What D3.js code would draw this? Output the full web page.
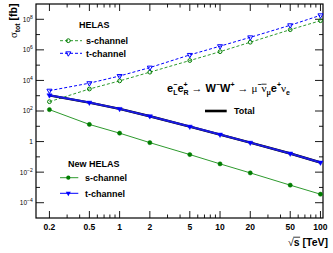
<!DOCTYPE html>
<html><head><meta charset="utf-8">
<script src="https://cdn.jsdelivr.net/npm/d3@7"></script>
<style>
html,body{margin:0;padding:0;background:#fff;}
svg{display:block;font-family:"Liberation Sans",Arial,sans-serif;}
</style></head>
<body><svg id="c" width="333" height="253"></svg>
<script>
const energies = [0.2, 0.5, 1, 2, 5, 10, 20, 50, 100];
const helasS = [407, 2750, 9330, 34700, 2.0e5, 7.6e5, 3.16e6, 2.09e7, 8.1e7];
const helasT = [2140, 6600, 19500, 69200, 4.68e5, 1.74e6, 6.6e6, 4.07e7, 1.82e8];
const newS = [123, 13.2, 3.55, 0.85, 0.141, 0.0347, 0.0089, 0.00141, 0.00036];
const newT = [1072, 355, 138, 45.7, 9.55, 2.88, 0.85, 0.166, 0.0427];
const total = [1060, 352, 137, 45.5, 9.5, 2.87, 0.85, 0.166, 0.0427];
const xTickLabels = ["0.2", "0.5", "1", "2", "5", "10", "20", "50", "100"];
const yTickPowers = [-4, -2, 0, 2, 4, 6, 8];

const svg = d3.select("#c");
const L = 36, R = 323, T = 4, B = 218;
const x = d3.scaleLog().domain([0.147, 106]).range([L, R]);
const y = d3.scaleLog().domain([1e-5, 1e9]).range([B, T]);

const GREEN_L = "#2e9a2e", GREEN_M = "#007d00", BLUE = "#0000ff";

// frame
svg.append("rect").attr("x", L).attr("y", T).attr("width", R - L).attr("height", B - T)
  .attr("fill", "none").attr("stroke", "#000").attr("stroke-width", 1.2);

// x ticks
const xMinor = [];
[0.1, 1, 10].forEach(d => { for (let k = 1; k <= 9; k++) { const v = +(d * k).toPrecision(3); if (v >= 0.2 && v <= 100) xMinor.push(v); } });
xMinor.push(100);
const xLab = xTickLabels.map(Number);
xMinor.forEach(v => {
  const len = xLab.includes(v) ? 7 : 3.5;
  svg.append("line").attr("x1", x(v)).attr("x2", x(v)).attr("y1", B).attr("y2", B - len).attr("stroke", "#000").attr("stroke-width", 0.9);
  svg.append("line").attr("x1", x(v)).attr("x2", x(v)).attr("y1", T).attr("y2", T + len).attr("stroke", "#000").attr("stroke-width", 0.9);
});
xTickLabels.forEach(s => {
  svg.append("text").attr("x", x(+s)).attr("y", 229.5).attr("text-anchor", "middle")
    .attr("font-size", 8.5).attr("font-weight", "bold").text(s);
});

// y ticks
for (let p = -4; p <= 8; p++) {
  const major = yTickPowers.includes(p);
  const len = major ? 8 : 4;
  const yy = y(Math.pow(10, p));
  svg.append("line").attr("x1", L).attr("x2", L + len).attr("y1", yy).attr("y2", yy).attr("stroke", "#000").attr("stroke-width", 0.9);
  svg.append("line").attr("x1", R).attr("x2", R - len).attr("y1", yy).attr("y2", yy).attr("stroke", "#000").attr("stroke-width", 0.9);
}
yTickPowers.forEach(p => {
  const t = svg.append("text").attr("x", 32.8).attr("y", y(Math.pow(10, p)) + 2.4)
    .attr("text-anchor", "end").attr("font-size", 6.5);
  if (p === 0) { t.text("1"); }
  else {
    t.append("tspan").text("10");
    t.append("tspan").attr("dy", -3).attr("font-size", 5).text(p < 0 ? "\u2212" + (-p) : String(p));
  }
});

// axis titles
const yt = svg.append("text").attr("transform", "translate(17,3.5) rotate(-90)")
  .attr("text-anchor", "end").attr("font-size", 10.5).attr("font-weight", "bold");
yt.append("tspan").attr("font-family", "Liberation Serif, serif").attr("font-weight", "normal").text("\u03c3");
yt.append("tspan").attr("dy", 2.5).attr("font-size", 7).text("tot");
yt.append("tspan").attr("dy", -2.5).text(" [fb]");

// x title sqrt(s) [TeV]
{
  const g = svg.append("g");
  const t = g.append("text").attr("x", 328).attr("y", 246).attr("text-anchor", "end")
    .attr("font-size", 10.5).attr("font-weight", "bold");
  t.append("tspan").attr("font-weight", "normal").text("\u221a");
  t.append("tspan").text("s");
  t.append("tspan").text(" [TeV]");
  const n = t.node();
  const st = n.getStartPositionOfChar(1).x, en = n.getEndPositionOfChar(1).x;
  g.append("line").attr("x1", st - 0.5).attr("x2", en + 0.5).attr("y1", 237.2).attr("y2", 237.2)
    .attr("stroke", "#000").attr("stroke-width", 0.8);
}

// data lines
const pts = arr => energies.map((e, i) => [x(e), y(arr[i])]);
const line = d3.line();
svg.append("path").attr("d", line(pts(helasS))).attr("fill", "none").attr("stroke", GREEN_L).attr("stroke-width", 1).attr("stroke-dasharray", "3,2");
svg.append("path").attr("d", line(pts(helasT))).attr("fill", "none").attr("stroke", BLUE).attr("stroke-width", 1).attr("stroke-dasharray", "3,2");
svg.append("path").attr("d", line(pts(newS))).attr("fill", "none").attr("stroke", GREEN_L).attr("stroke-width", 1);
svg.append("path").attr("d", line(pts(total))).attr("fill", "none").attr("stroke", "#000").attr("stroke-width", 2.4);
svg.append("path").attr("d", line(pts(newT))).attr("fill", "none").attr("stroke", "#1a1ae0").attr("stroke-width", 2.0);

// markers
const tri = d3.symbol().type(d3.symbolTriangle).size(11);
function circles(arr, filled) {
  pts(arr).forEach(([px, py]) => svg.append("circle").attr("cx", px).attr("cy", py).attr("r", filled ? 2.1 : 1.9)
    .attr("fill", filled ? GREEN_M : "none").attr("stroke", GREEN_M).attr("stroke-width", filled ? 0.5 : 1));
}
function tris(arr, filled) {
  pts(arr).forEach(([px, py]) => svg.append("path").attr("d", tri()).attr("transform", `translate(${px},${py}) rotate(180)`)
    .attr("fill", filled ? BLUE : "none").attr("stroke", BLUE).attr("stroke-width", filled ? 0.5 : 1));
}
circles(helasS, false);
tris(helasT, false);
circles(newS, true);
tris(newT, true);

// legends
function legText(xx, yy, s, size) {
  svg.append("text").attr("x", xx).attr("y", yy).attr("font-size", size || 9).attr("font-weight", "bold").text(s);
}
legText(79, 27.5, "HELAS");
svg.append("line").attr("x1", 60).attr("x2", 82).attr("y1", 40.7).attr("y2", 40.7).attr("stroke", GREEN_L).attr("stroke-dasharray", "3,2");
svg.append("circle").attr("cx", 68.3).attr("cy", 40.7).attr("r", 1.9).attr("fill", "none").attr("stroke", GREEN_M);
legText(86, 44, "s-channel");
svg.append("line").attr("x1", 60).attr("x2", 82).attr("y1", 53.3).attr("y2", 53.3).attr("stroke", BLUE).attr("stroke-dasharray", "3,2");
svg.append("path").attr("d", tri()).attr("transform", "translate(68.3,53.3) rotate(180)").attr("fill", "none").attr("stroke", BLUE);
legText(86, 56.6, "t-channel");

legText(68, 167, "New HELAS");
svg.append("line").attr("x1", 60).attr("x2", 78.3).attr("y1", 177.7).attr("y2", 177.7).attr("stroke", GREEN_L);
svg.append("circle").attr("cx", 68.3).attr("cy", 177.7).attr("r", 2.1).attr("fill", GREEN_M);
legText(85, 181, "s-channel");
svg.append("line").attr("x1", 60).attr("x2", 78.3).attr("y1", 193.3).attr("y2", 193.3).attr("stroke", BLUE);
svg.append("path").attr("d", tri()).attr("transform", "translate(68.3,193.3) rotate(180)").attr("fill", BLUE);
legText(85, 196.6, "t-channel");

svg.append("line").attr("x1", 205).attr("x2", 226.7).attr("y1", 111).attr("y2", 111).attr("stroke", "#000").attr("stroke-width", 2.6);
legText(234, 114.3, "Total");

// process label
{
  const g = svg.append("g").attr("font-size", 11);
  const base = 91.7;
  let cx = 167;
  const add = (s, o) => {
    o = o || {};
    const t = g.append("text").attr("x", cx).attr("y", base + (o.dy || 0))
      .attr("font-size", o.size || 11)
      .attr("font-weight", o.bold === false ? "normal" : "bold")
      .attr("font-family", o.serif ? "Liberation Serif, serif" : null).text(s);
    return t;
  };
  const w = t => t.node().getComputedTextLength();
  const piece = (s, o) => { const t = add(s, o); cx += w(t); return t; };
  const stack = (sup, sub) => {
    let mw = 0;
    if (sup) mw = Math.max(mw, w(add(sup, { dy: -5, size: 7 })));
    if (sub) mw = Math.max(mw, w(add(sub, { dy: 3.6, size: 7 })));
    cx += mw;
  };
  piece("e"); stack("\u2212", "L");
  piece("e"); stack("+", "R");
  cx += 3; piece("\u2192", { bold: false, serif: true }); cx += 3;
  piece("W"); stack("\u2212", null);
  piece("W"); stack("+", null);
  cx += 3; piece("\u2192", { bold: false, serif: true }); cx += 3;
  piece("\u03bc", { bold: false, serif: true }); stack("\u2212", null);
  const nx = cx;
  piece("\u03bd", { bold: false, serif: true });
  g.append("line").attr("x1", nx).attr("x2", cx).attr("y1", base - 7.5).attr("y2", base - 7.5).attr("stroke", "#000").attr("stroke-width", 0.8);
  stack(null, "\u03bc");
  piece("e"); stack("+", null);
  piece("\u03bd", { bold: false, serif: true }); stack(null, "e");
}
</script></body></html>
